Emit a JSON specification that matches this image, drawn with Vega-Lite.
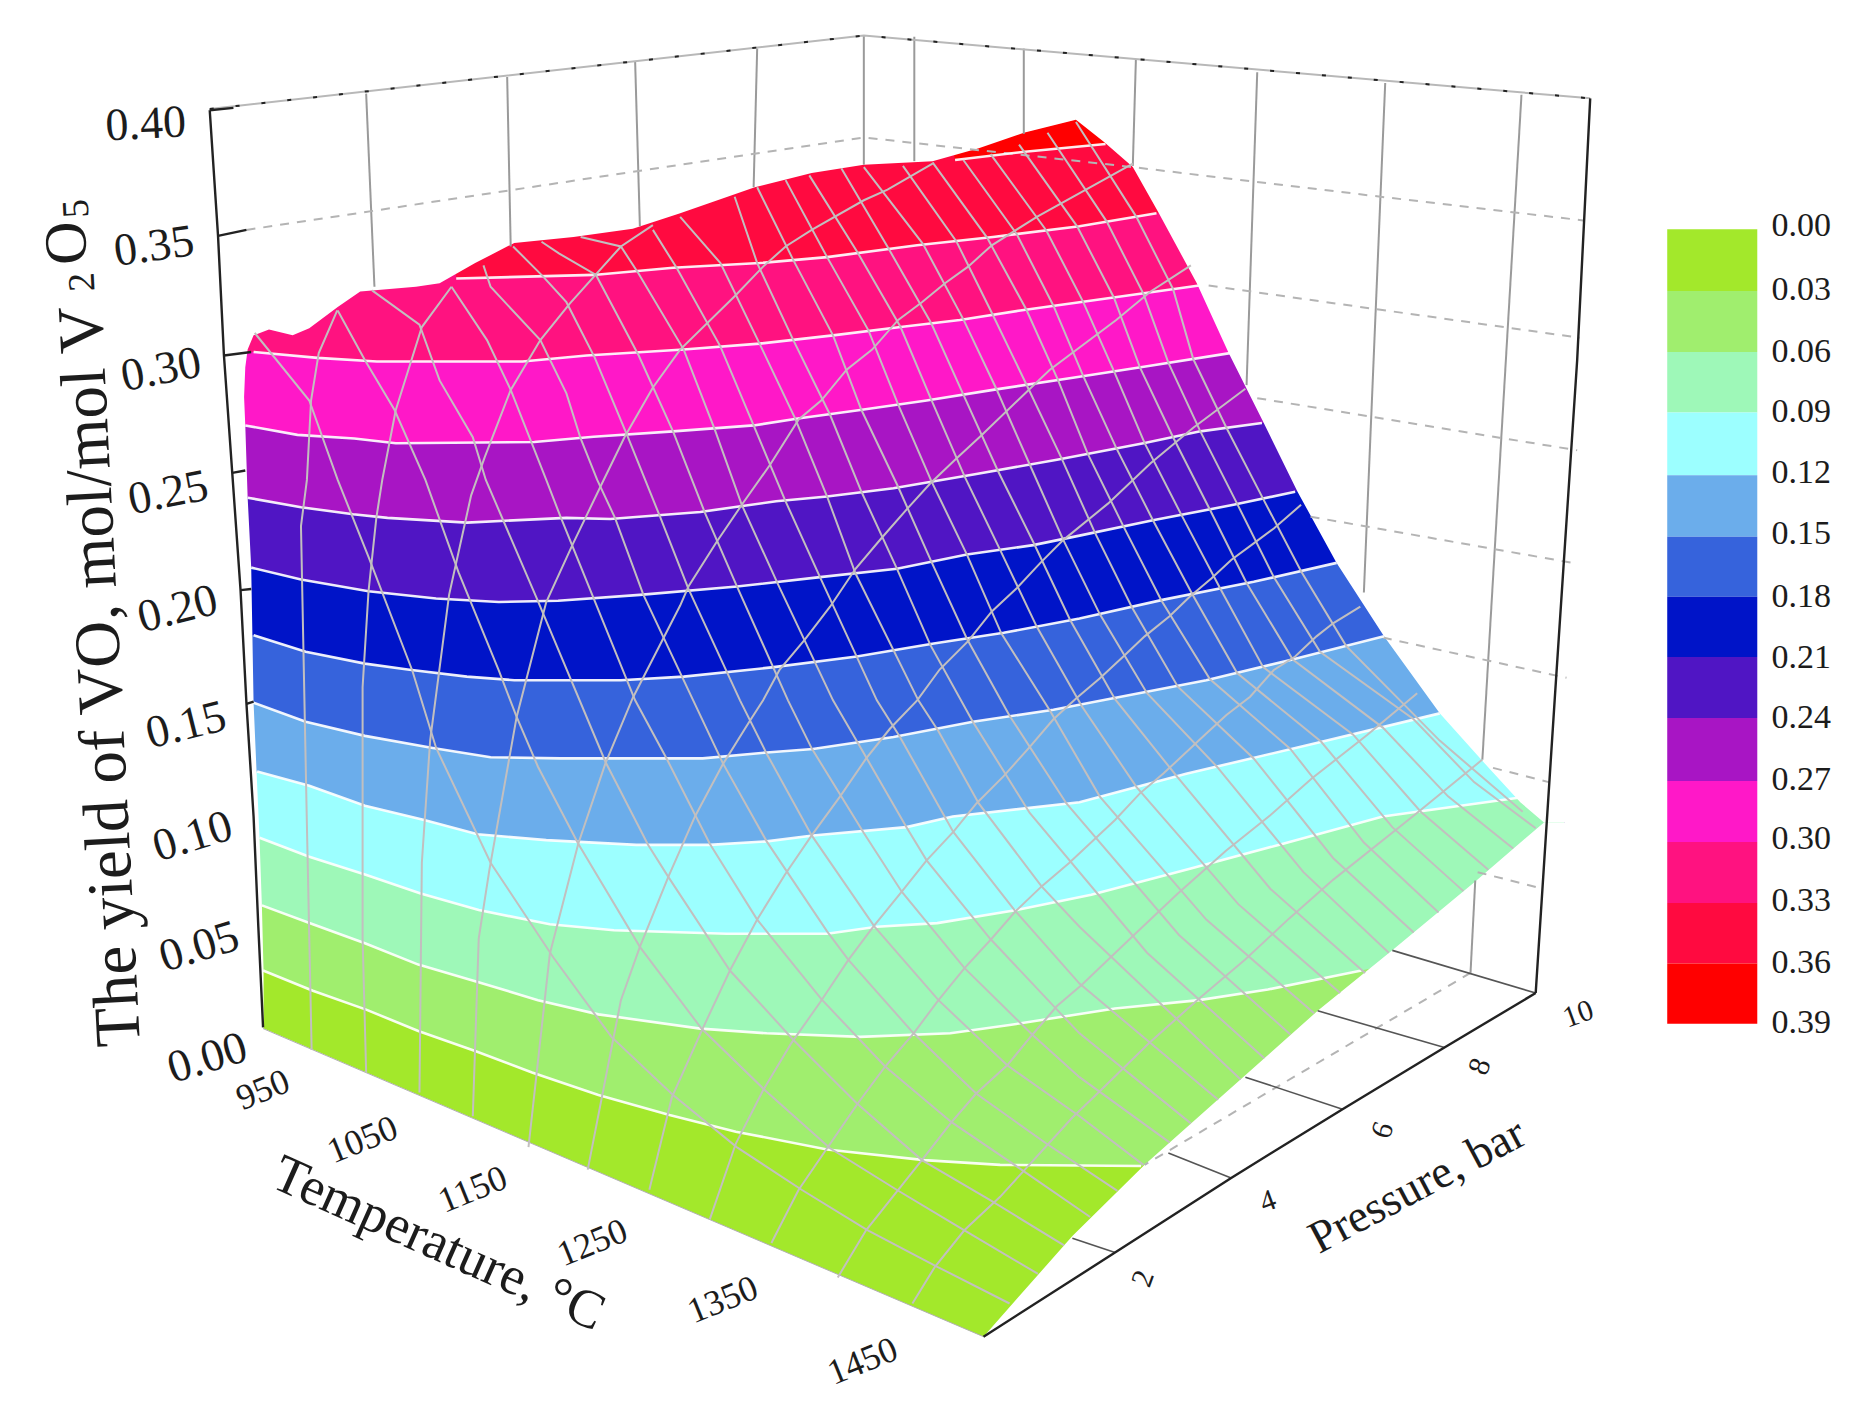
{
"$schema":"https://vega.github.io/schema/vega-lite/v5.json",
"width":1858,"height":1413,"padding":0,"autosize":"none",
"background":"white",
"config":{"view":{"stroke":null},"text":{"font":"Liberation Serif","color":"#1c1c1c"}},
"datasets":{
"bands":[
{"level":"0.36","sx":206,"sy":50,"off":1},{"level":"0.36","sx":1320,"sy":50,"off":1},
{"level":"0.33","sx":206,"sy":100,"off":1},{"level":"0.33","sx":800,"sy":100,"off":1},{"level":"0.33","sx":806,"sy":135},{"level":"0.33","sx":865,"sy":128},{"level":"0.33","sx":933,"sy":121.5},{"level":"0.33","sx":1320,"sy":100,"off":1},
{"level":"0.30","sx":206,"sy":190,"off":1},{"level":"0.30","sx":380,"sy":190,"off":1},{"level":"0.30","sx":385,"sy":235},{"level":"0.30","sx":501,"sy":232},{"level":"0.30","sx":568,"sy":226},{"level":"0.30","sx":641,"sy":222},{"level":"0.30","sx":698,"sy":217},{"level":"0.30","sx":774,"sy":207},{"level":"0.30","sx":838,"sy":200},{"level":"0.30","sx":911,"sy":191},{"level":"0.30","sx":976,"sy":180},{"level":"0.30","sx":1320,"sy":130,"off":1},
{"level":"0.27","sx":206,"sy":297,"off":1},{"level":"0.27","sx":214,"sy":297},{"level":"0.27","sx":268,"sy":302},{"level":"0.27","sx":318,"sy":305},{"level":"0.27","sx":441,"sy":305},{"level":"0.27","sx":495,"sy":300},{"level":"0.27","sx":577,"sy":295},{"level":"0.27","sx":641,"sy":290},{"level":"0.27","sx":703,"sy":283},{"level":"0.27","sx":760,"sy":276},{"level":"0.27","sx":810,"sy":270},{"level":"0.27","sx":861,"sy":262},{"level":"0.27","sx":911,"sy":255},{"level":"0.27","sx":1012,"sy":241},{"level":"0.27","sx":1320,"sy":198,"off":1},
{"level":"0.24","sx":206,"sy":358,"off":1},{"level":"0.24","sx":207,"sy":359},{"level":"0.24","sx":251,"sy":367},{"level":"0.24","sx":299,"sy":370},{"level":"0.24","sx":334,"sy":374},{"level":"0.24","sx":451,"sy":373},{"level":"0.24","sx":501,"sy":368.5},{"level":"0.24","sx":568,"sy":364},{"level":"0.24","sx":636,"sy":359},{"level":"0.24","sx":675,"sy":353},{"level":"0.24","sx":726,"sy":346},{"level":"0.24","sx":782,"sy":338},{"level":"0.24","sx":838,"sy":329},{"level":"0.24","sx":911,"sy":318},{"level":"0.24","sx":968,"sy":309},{"level":"0.24","sx":1038,"sy":298},{"level":"0.24","sx":1320,"sy":255,"off":1},
{"level":"0.21","sx":206,"sy":419,"off":1},{"level":"0.21","sx":209,"sy":420},{"level":"0.21","sx":254,"sy":428},{"level":"0.21","sx":298,"sy":434},{"level":"0.21","sx":327,"sy":437},{"level":"0.21","sx":394,"sy":441},{"level":"0.21","sx":478,"sy":437},{"level":"0.21","sx":515,"sy":438},{"level":"0.21","sx":591,"sy":432},{"level":"0.21","sx":655,"sy":423},{"level":"0.21","sx":698,"sy":419},{"level":"0.21","sx":754,"sy":412},{"level":"0.21","sx":824,"sy":400},{"level":"0.21","sx":892,"sy":388},{"level":"0.21","sx":965,"sy":374},{"level":"0.21","sx":1013,"sy":364},{"level":"0.21","sx":1065,"sy":357},{"level":"0.21","sx":1320,"sy":315,"off":1},
{"level":"0.18","sx":206,"sy":478,"off":1},{"level":"0.18","sx":212,"sy":479},{"level":"0.18","sx":254,"sy":489},{"level":"0.18","sx":311,"sy":499},{"level":"0.18","sx":368,"sy":505},{"level":"0.18","sx":421,"sy":508},{"level":"0.18","sx":471,"sy":507},{"level":"0.18","sx":540,"sy":502},{"level":"0.18","sx":622,"sy":495},{"level":"0.18","sx":692,"sy":487},{"level":"0.18","sx":757,"sy":480},{"level":"0.18","sx":816,"sy":468},{"level":"0.18","sx":872,"sy":460},{"level":"0.18","sx":911,"sy":452},{"level":"0.18","sx":973,"sy":439},{"level":"0.18","sx":1041,"sy":426},{"level":"0.18","sx":1093,"sy":415},{"level":"0.18","sx":1320,"sy":370,"off":1},
{"level":"0.15","sx":206,"sy":535,"off":1},{"level":"0.15","sx":214,"sy":536},{"level":"0.15","sx":258,"sy":550},{"level":"0.15","sx":308,"sy":560},{"level":"0.15","sx":344,"sy":565},{"level":"0.15","sx":394,"sy":571},{"level":"0.15","sx":434,"sy":574},{"level":"0.15","sx":524,"sy":574},{"level":"0.15","sx":577,"sy":571},{"level":"0.15","sx":653,"sy":563},{"level":"0.15","sx":723,"sy":554},{"level":"0.15","sx":788,"sy":543},{"level":"0.15","sx":847,"sy":534},{"level":"0.15","sx":911,"sy":522},{"level":"0.15","sx":982,"sy":506},{"level":"0.15","sx":1058,"sy":491},{"level":"0.15","sx":1128,"sy":475},{"level":"0.15","sx":1320,"sy":430,"off":1},
{"level":"0.12","sx":206,"sy":592,"off":1},{"level":"0.12","sx":214,"sy":593},{"level":"0.12","sx":258,"sy":609},{"level":"0.12","sx":308,"sy":621},{"level":"0.12","sx":364,"sy":631},{"level":"0.12","sx":414,"sy":639},{"level":"0.12","sx":473,"sy":640},{"level":"0.12","sx":593,"sy":640},{"level":"0.12","sx":647,"sy":635},{"level":"0.12","sx":686,"sy":632},{"level":"0.12","sx":754,"sy":622},{"level":"0.12","sx":821,"sy":609},{"level":"0.12","sx":889,"sy":599},{"level":"0.12","sx":1018,"sy":574},{"level":"0.12","sx":1089,"sy":557},{"level":"0.12","sx":1168,"sy":537},{"level":"0.12","sx":1320,"sy":500,"off":1},
{"level":"0.09","sx":206,"sy":650,"off":1},{"level":"0.09","sx":217,"sy":651},{"level":"0.09","sx":261,"sy":663},{"level":"0.09","sx":308,"sy":680},{"level":"0.09","sx":358,"sy":692},{"level":"0.09","sx":403,"sy":704},{"level":"0.09","sx":461,"sy":709},{"level":"0.09","sx":537,"sy":713},{"level":"0.09","sx":599,"sy":713},{"level":"0.09","sx":647,"sy":710},{"level":"0.09","sx":686,"sy":705},{"level":"0.09","sx":765,"sy":698},{"level":"0.09","sx":804,"sy":689},{"level":"0.09","sx":911,"sy":677},{"level":"0.09","sx":1001,"sy":653},{"level":"0.09","sx":1111,"sy":627},{"level":"0.09","sx":1215,"sy":602},{"level":"0.09","sx":1320,"sy":577,"off":1},
{"level":"0.06","sx":206,"sy":706,"off":1},{"level":"0.06","sx":219,"sy":707},{"level":"0.06","sx":261,"sy":723},{"level":"0.06","sx":308,"sy":738},{"level":"0.06","sx":355,"sy":754},{"level":"0.06","sx":404,"sy":768},{"level":"0.06","sx":464,"sy":780},{"level":"0.06","sx":518,"sy":785},{"level":"0.06","sx":613,"sy":788},{"level":"0.06","sx":698,"sy":788},{"level":"0.06","sx":740,"sy":782},{"level":"0.06","sx":791,"sy":779},{"level":"0.06","sx":858,"sy":768},{"level":"0.06","sx":921,"sy":755},{"level":"0.06","sx":1005,"sy":733},{"level":"0.06","sx":1079,"sy":713},{"level":"0.06","sx":1167,"sy":689},{"level":"0.06","sx":1283,"sy":673},{"level":"0.06","sx":1320,"sy":665,"off":1},
{"level":"0.03","sx":206,"sy":763,"off":1},{"level":"0.03","sx":221,"sy":764},{"level":"0.03","sx":264,"sy":780},{"level":"0.03","sx":308,"sy":796},{"level":"0.03","sx":353,"sy":814},{"level":"0.03","sx":401,"sy":828},{"level":"0.03","sx":454,"sy":844},{"level":"0.03","sx":505,"sy":856},{"level":"0.03","sx":591,"sy":868},{"level":"0.03","sx":647,"sy":872},{"level":"0.03","sx":726,"sy":875},{"level":"0.03","sx":802,"sy":872},{"level":"0.03","sx":852,"sy":865},{"level":"0.03","sx":941,"sy":851},{"level":"0.03","sx":1012,"sy":844},{"level":"0.03","sx":1070,"sy":835},{"level":"0.03","sx":1149,"sy":819},{"level":"0.03","sx":1320,"sy":780,"off":1},
{"level":"0.00","sx":206,"sy":818,"off":1},{"level":"0.00","sx":222,"sy":819},{"level":"0.00","sx":264,"sy":836},{"level":"0.00","sx":309,"sy":852},{"level":"0.00","sx":353,"sy":870},{"level":"0.00","sx":401,"sy":887},{"level":"0.00","sx":449,"sy":905},{"level":"0.00","sx":505,"sy":924},{"level":"0.00","sx":565,"sy":941},{"level":"0.00","sx":621,"sy":955},{"level":"0.00","sx":698,"sy":970},{"level":"0.00","sx":780,"sy":979},{"level":"0.00","sx":844,"sy":983},{"level":"0.00","sx":963,"sy":984},{"level":"0.00","sx":1320,"sy":900,"off":1}
],
"topEdge":[{"sx":198,"sy":335},{"sx":206,"sy":335},{"sx":207,"sy":310},{"sx":209,"sy":295},{"sx":214,"sy":283},{"sx":227,"sy":278},{"sx":247,"sy":283},{"sx":261,"sy":277},{"sx":285,"sy":259},{"sx":304,"sy":246},{"sx":351,"sy":242},{"sx":371,"sy":239},{"sx":401,"sy":222},{"sx":434,"sy":205},{"sx":484,"sy":200},{"sx":534,"sy":193},{"sx":574,"sy":180},{"sx":637,"sy":158},{"sx":685,"sy":146},{"sx":729,"sy":139},{"sx":787,"sy":136},{"sx":826,"sy":125},{"sx":864,"sy":112},{"sx":908,"sy":101},{"sx":932,"sy":120},{"sx":956,"sy":141},{"sx":978,"sy":180},{"sx":1010,"sy":239},{"sx":1037,"sy":298},{"sx":1066,"sy":356},{"sx":1095,"sy":415},{"sx":1128,"sy":475},{"sx":1168,"sy":537},{"sx":1215,"sy":602},{"sx":1250,"sy":641},{"sx":1283,"sy":677},{"sx":1303,"sy":694},{"sx":1330,"sy":694}],
"bottomEdge":[{"sx":198,"sy":335},{"sx":206,"sy":335},{"sx":207,"sy":359},{"sx":209,"sy":420},{"sx":212,"sy":479},{"sx":214,"sy":593},{"sx":216.5,"sy":651},{"sx":219,"sy":707},{"sx":221,"sy":764},{"sx":222.4,"sy":819},{"sx":222.5,"sy":868},{"sx":830,"sy":1128},{"sx":905,"sy":1043},{"sx":966,"sy":983},{"sx":1049,"sy":909},{"sx":1112,"sy":853},{"sx":1176,"sy":801},{"sx":1246,"sy":743},{"sx":1303,"sy":694},{"sx":1330,"sy":694}],
"wallSolid":[
{"line":"w1","sx":309,"sy":79},{"line":"w1","sx":316,"sy":242},{"line":"w2","sx":428,"sy":65},{"line":"w2","sx":431,"sy":208},{"line":"w3","sx":536,"sy":52},{"line":"w3","sx":540,"sy":191},{"line":"w4","sx":639,"sy":41},{"line":"w4","sx":636,"sy":158},{"line":"w5","sx":729,"sy":30},{"line":"w5","sx":729,"sy":139},{"line":"w6","sx":771.6,"sy":31},{"line":"w6","sx":771.6,"sy":136},{"line":"w7","sx":864,"sy":41},{"line":"w7","sx":864,"sy":113},{"line":"w8","sx":958.6,"sy":50},{"line":"w8","sx":956,"sy":140},{"line":"w9","sx":1061,"sy":61},{"line":"w9","sx":1052,"sy":325},{"line":"w10","sx":1169,"sy":70},{"line":"w10","sx":1151,"sy":500},{"line":"w11","sx":1284,"sy":80},{"line":"w11","sx":1251,"sy":641},{"line":"w12","sx":1245,"sy":743},{"line":"w12","sx":1241,"sy":821}
],
"wallDash":[
{"line":"d35","sx":208,"sy":194},{"line":"d35","sx":574,"sy":139},{"line":"d35","sx":729,"sy":116},{"line":"d35","sx":956,"sy":141},{"line":"d35","sx":1165,"sy":166},{"line":"d35","sx":1336,"sy":186},
{"line":"d30","sx":1020,"sy":241},{"line":"d30","sx":1333,"sy":285},
{"line":"d25","sx":1061,"sy":336},{"line":"d25","sx":1331,"sy":380},
{"line":"d20","sx":1106,"sy":436},{"line":"d20","sx":1327,"sy":475},
{"line":"d15","sx":1167,"sy":538},{"line":"d15","sx":1322,"sy":572},
{"line":"d10","sx":1260,"sy":648},{"line":"d10","sx":1307,"sy":660},
{"line":"d05","sx":1247,"sy":736},{"line":"d05","sx":1302,"sy":750},
{"line":"f0","sx":1241,"sy":821},{"line":"f0","sx":966,"sy":983}
],
"floorLines":[
{"line":"p2","sx":941,"sy":1057},{"line":"p2","sx":905,"sy":1045},
{"line":"p4","sx":1039,"sy":994},{"line":"p4","sx":986,"sy":973},
{"line":"p6","sx":1133,"sy":936},{"line":"p6","sx":1051,"sy":909},
{"line":"p8","sx":1219,"sy":884},{"line":"p8","sx":1112,"sy":853},
{"line":"p10","sx":1296,"sy":838},{"line":"p10","sx":1175,"sy":802}
],
"gridT":[
{"line":"A1","sx":263,"sy":886},{"line":"A1","sx":259,"sy":696},{"line":"A1","sx":254,"sy":444},{"line":"A1","sx":259,"sy":405},{"line":"A1","sx":262.5,"sy":338},{"line":"A1","sx":269,"sy":298},{"line":"A1","sx":284.6,"sy":262},
{"line":"A2","sx":309,"sy":905},{"line":"A2","sx":306,"sy":792},{"line":"A2","sx":306,"sy":580},{"line":"A2","sx":311,"sy":499},{"line":"A2","sx":317.6,"sy":437},{"line":"A2","sx":322.6,"sy":405},{"line":"A2","sx":334,"sy":346},{"line":"A2","sx":356,"sy":276},{"line":"A2","sx":381,"sy":242},
{"line":"A3","sx":354,"sy":922},{"line":"A3","sx":356,"sy":728},{"line":"A3","sx":363,"sy":625},{"line":"A3","sx":379,"sy":502},{"line":"A3","sx":397.6,"sy":418},{"line":"A3","sx":409,"sy":386},{"line":"A3","sx":431,"sy":329},{"line":"A3","sx":456,"sy":287},{"line":"A3","sx":481,"sy":256},{"line":"A3","sx":524,"sy":208},{"line":"A3","sx":551,"sy":190},
{"line":"A4","sx":399,"sy":942},{"line":"A4","sx":404,"sy":792},{"line":"A4","sx":413,"sy":734},{"line":"A4","sx":436,"sy":605},{"line":"A4","sx":461,"sy":508},{"line":"A4","sx":483,"sy":460},{"line":"A4","sx":508,"sy":408},{"line":"A4","sx":527,"sy":369},{"line":"A4","sx":551,"sy":327},{"line":"A4","sx":574,"sy":295},{"line":"A4","sx":620,"sy":250},{"line":"A4","sx":644,"sy":225},{"line":"A4","sx":663,"sy":208},{"line":"A4","sx":685,"sy":194},{"line":"A4","sx":729,"sy":169},{"line":"A4","sx":749,"sy":160},{"line":"A4","sx":787,"sy":138},
{"line":"A5","sx":446,"sy":968},{"line":"A5","sx":464,"sy":805},{"line":"A5","sx":488,"sy":712},{"line":"A5","sx":511,"sy":644},{"line":"A5","sx":534,"sy":589},{"line":"A5","sx":574,"sy":511},{"line":"A5","sx":581,"sy":495},{"line":"A5","sx":605,"sy":457},{"line":"A5","sx":626,"sy":426},{"line":"A5","sx":650,"sy":392},{"line":"A5","sx":674,"sy":354},{"line":"A5","sx":693,"sy":338},{"line":"A5","sx":714.5,"sy":312},{"line":"A5","sx":736,"sy":295},{"line":"A5","sx":758,"sy":270},{"line":"A5","sx":778,"sy":255},{"line":"A5","sx":797.5,"sy":239},{"line":"A5","sx":817,"sy":225},{"line":"A5","sx":837,"sy":207},{"line":"A5","sx":875,"sy":183},{"line":"A5","sx":956,"sy":138},
{"line":"A6","sx":496,"sy":987},{"line":"A6","sx":513,"sy":900},{"line":"A6","sx":524,"sy":844},{"line":"A6","sx":540,"sy":799},{"line":"A6","sx":564,"sy":740},{"line":"A6","sx":586.5,"sy":689},{"line":"A6","sx":610,"sy":645},{"line":"A6","sx":633,"sy":608},{"line":"A6","sx":644,"sy":591},{"line":"A6","sx":658,"sy":565},{"line":"A6","sx":679,"sy":540},{"line":"A6","sx":700.5,"sy":512},{"line":"A6","sx":722,"sy":480},{"line":"A6","sx":744,"sy":454},{"line":"A6","sx":765,"sy":430},{"line":"A6","sx":785,"sy":408},{"line":"A6","sx":806,"sy":388},{"line":"A6","sx":827,"sy":368.5},{"line":"A6","sx":865,"sy":332},{"line":"A6","sx":886,"sy":312},{"line":"A6","sx":942,"sy":270},{"line":"A6","sx":971,"sy":246},{"line":"A6","sx":1005,"sy":224},
{"line":"A7","sx":548,"sy":1004},{"line":"A7","sx":567,"sy":926},{"line":"A7","sx":593,"sy":868},{"line":"A7","sx":616,"sy":819},{"line":"A7","sx":639,"sy":776},{"line":"A7","sx":662.5,"sy":738},{"line":"A7","sx":685,"sy":705},{"line":"A7","sx":709,"sy":672},{"line":"A7","sx":731,"sy":640},{"line":"A7","sx":751,"sy":615},{"line":"A7","sx":774,"sy":591},{"line":"A7","sx":793,"sy":565},{"line":"A7","sx":817,"sy":541},{"line":"A7","sx":837,"sy":516},{"line":"A7","sx":858,"sy":496.5},{"line":"A7","sx":878,"sy":475},{"line":"A7","sx":897,"sy":456},{"line":"A7","sx":935,"sy":425},{"line":"A7","sx":971,"sy":391},{"line":"A7","sx":1007,"sy":361},{"line":"A7","sx":1051,"sy":328},
{"line":"A8","sx":599,"sy":1029},{"line":"A8","sx":621,"sy":965},{"line":"A8","sx":644,"sy":920},{"line":"A8","sx":668,"sy":880},{"line":"A8","sx":692,"sy":846},{"line":"A8","sx":716,"sy":810},{"line":"A8","sx":737,"sy":782},{"line":"A8","sx":761,"sy":752.5},{"line":"A8","sx":782,"sy":726},{"line":"A8","sx":804.5,"sy":702},{"line":"A8","sx":824,"sy":678},{"line":"A8","sx":847,"sy":655},{"line":"A8","sx":868,"sy":631.5},{"line":"A8","sx":889,"sy":607},{"line":"A8","sx":908.6,"sy":589},{"line":"A8","sx":928,"sy":572.5},{"line":"A8","sx":948,"sy":554},{"line":"A8","sx":966,"sy":537},{"line":"A8","sx":987,"sy":520},{"line":"A8","sx":1004,"sy":503.6},{"line":"A8","sx":1022.5,"sy":488},{"line":"A8","sx":1039,"sy":472.6},{"line":"A8","sx":1058,"sy":458.5},{"line":"A8","sx":1075,"sy":446},{"line":"A8","sx":1098,"sy":426},
{"line":"A9","sx":651,"sy":1049},{"line":"A9","sx":674,"sy":1004},{"line":"A9","sx":724,"sy":931},{"line":"A9","sx":747,"sy":900},{"line":"A9","sx":771,"sy":872},{"line":"A9","sx":792,"sy":844},{"line":"A9","sx":814,"sy":817},{"line":"A9","sx":837,"sy":792},{"line":"A9","sx":857,"sy":769},{"line":"A9","sx":879,"sy":748},{"line":"A9","sx":902,"sy":728.5},{"line":"A9","sx":941,"sy":692},{"line":"A9","sx":962,"sy":669.5},{"line":"A9","sx":982,"sy":652.6},{"line":"A9","sx":1018,"sy":619},{"line":"A9","sx":1035,"sy":603.4},{"line":"A9","sx":1055,"sy":588},{"line":"A9","sx":1075,"sy":565.4},{"line":"A9","sx":1093,"sy":554},{"line":"A9","sx":1111,"sy":537},{"line":"A9","sx":1125,"sy":526},{"line":"A9","sx":1148,"sy":512},
{"line":"A10","sx":707,"sy":1078},{"line":"A10","sx":731,"sy":1038},{"line":"A10","sx":778,"sy":979},{"line":"A10","sx":803,"sy":947},{"line":"A10","sx":824,"sy":922.6},{"line":"A10","sx":850,"sy":899},{"line":"A10","sx":871,"sy":873.4},{"line":"A10","sx":892,"sy":849},{"line":"A10","sx":913,"sy":831},{"line":"A10","sx":955,"sy":791},{"line":"A10","sx":994,"sy":754},{"line":"A10","sx":1034.6,"sy":718},{"line":"A10","sx":1072,"sy":688},{"line":"A10","sx":1107,"sy":657},{"line":"A10","sx":1154,"sy":620},{"line":"A10","sx":1196,"sy":585},
{"line":"A11","sx":770,"sy":1100},{"line":"A11","sx":789,"sy":1069},{"line":"A11","sx":814,"sy":1038},{"line":"A11","sx":844,"sy":1010},{"line":"A11","sx":905,"sy":943},{"line":"A11","sx":927,"sy":922},{"line":"A11","sx":970,"sy":880},{"line":"A11","sx":1012,"sy":842.6},{"line":"A11","sx":1050.6,"sy":810},{"line":"A11","sx":1088,"sy":775},{"line":"A11","sx":1125,"sy":742.5},{"line":"A11","sx":1194,"sy":687.6},{"line":"A11","sx":1251,"sy":641}
],
"gridP":[
{"line":"B1","sx":215,"sy":281},{"line":"B1","sx":261,"sy":338},{"line":"B1","sx":285,"sy":405},{"line":"B1","sx":311,"sy":470},{"line":"B1","sx":348,"sy":566},{"line":"B1","sx":368,"sy":631},{"line":"B1","sx":414,"sy":728},{"line":"B1","sx":467,"sy":808},{"line":"B1","sx":516,"sy":875},{"line":"B1","sx":568,"sy":924},{"line":"B1","sx":621.7,"sy":968},{"line":"B1","sx":676.5,"sy":1004},{"line":"B1","sx":732,"sy":1038},{"line":"B1","sx":791,"sy":1069},{"line":"B1","sx":852,"sy":1100},
{"line":"B2","sx":285,"sy":262},{"line":"B2","sx":308,"sy":304},{"line":"B2","sx":333,"sy":346},{"line":"B2","sx":359,"sy":405},{"line":"B2","sx":387,"sy":483},{"line":"B2","sx":421,"sy":566},{"line":"B2","sx":436,"sy":605},{"line":"B2","sx":454,"sy":647},{"line":"B2","sx":488,"sy":712},{"line":"B2","sx":540,"sy":799},{"line":"B2","sx":592,"sy":868},{"line":"B2","sx":645.6,"sy":920},{"line":"B2","sx":700.5,"sy":969},{"line":"B2","sx":756.7,"sy":1004},{"line":"B2","sx":810,"sy":1036},{"line":"B2","sx":876,"sy":1075},
{"line":"B3","sx":314,"sy":245},{"line":"B3","sx":354,"sy":274},{"line":"B3","sx":371,"sy":321},{"line":"B3","sx":399,"sy":369},{"line":"B3","sx":410,"sy":405},{"line":"B3","sx":453,"sy":505},{"line":"B3","sx":511,"sy":643},{"line":"B3","sx":547,"sy":713},{"line":"B3","sx":564,"sy":740},{"line":"B3","sx":616,"sy":819},{"line":"B3","sx":670,"sy":878},{"line":"B3","sx":723,"sy":931},{"line":"B3","sx":778,"sy":979},{"line":"B3","sx":836,"sy":1013},{"line":"B3","sx":898,"sy":1051},
{"line":"B4","sx":381,"sy":242},{"line":"B4","sx":411,"sy":287},{"line":"B4","sx":431,"sy":329},{"line":"B4","sx":461,"sy":405},{"line":"B4","sx":473,"sy":436},{"line":"B4","sx":501,"sy":505},{"line":"B4","sx":536,"sy":591},{"line":"B4","sx":563,"sy":641},{"line":"B4","sx":599,"sy":712},{"line":"B4","sx":639,"sy":776},{"line":"B4","sx":693,"sy":843},{"line":"B4","sx":747,"sy":900},{"line":"B4","sx":803,"sy":947},{"line":"B4","sx":862,"sy":987},{"line":"B4","sx":920,"sy":1027},
{"line":"B5","sx":408,"sy":224},{"line":"B5","sx":414,"sy":242},{"line":"B5","sx":456,"sy":287},{"line":"B5","sx":478,"sy":332},{"line":"B5","sx":490,"sy":370},{"line":"B5","sx":504,"sy":405},{"line":"B5","sx":519,"sy":437},{"line":"B5","sx":543,"sy":502},{"line":"B5","sx":585,"sy":591},{"line":"B5","sx":610,"sy":644},{"line":"B5","sx":647,"sy":710},{"line":"B5","sx":698,"sy":786},{"line":"B5","sx":716,"sy":810},{"line":"B5","sx":771,"sy":872},{"line":"B5","sx":824,"sy":923},{"line":"B5","sx":883,"sy":965},{"line":"B5","sx":943,"sy":1005},
{"line":"B6","sx":433,"sy":208},{"line":"B6","sx":458,"sy":233},{"line":"B6","sx":478,"sy":255},{"line":"B6","sx":502,"sy":302},{"line":"B6","sx":530,"sy":369},{"line":"B6","sx":557,"sy":436},{"line":"B6","sx":581,"sy":497},{"line":"B6","sx":624.5,"sy":591},{"line":"B6","sx":647,"sy":636},{"line":"B6","sx":685,"sy":705},{"line":"B6","sx":738,"sy":782},{"line":"B6","sx":792,"sy":844},{"line":"B6","sx":850,"sy":899},{"line":"B6","sx":911,"sy":942},{"line":"B6","sx":965,"sy":983},
{"line":"B7","sx":457,"sy":204},{"line":"B7","sx":472,"sy":214},{"line":"B7","sx":503,"sy":232},{"line":"B7","sx":539,"sy":300},{"line":"B7","sx":568,"sy":364},{"line":"B7","sx":595,"sy":433},{"line":"B7","sx":622,"sy":495},{"line":"B7","sx":665,"sy":591},{"line":"B7","sx":685,"sy":631.5},{"line":"B7","sx":729,"sy":703},{"line":"B7","sx":761,"sy":752.5},{"line":"B7","sx":814,"sy":817},{"line":"B7","sx":871,"sy":873},{"line":"B7","sx":911,"sy":909},{"line":"B7","sx":987,"sy":964},
{"line":"B8","sx":490,"sy":200},{"line":"B8","sx":524,"sy":208},{"line":"B8","sx":539,"sy":231},{"line":"B8","sx":577,"sy":295},{"line":"B8","sx":603,"sy":362},{"line":"B8","sx":626,"sy":426},{"line":"B8","sx":657,"sy":494},{"line":"B8","sx":703,"sy":591},{"line":"B8","sx":724,"sy":627},{"line":"B8","sx":765,"sy":698},{"line":"B8","sx":782,"sy":726},{"line":"B8","sx":835.5,"sy":792},{"line":"B8","sx":892,"sy":852},{"line":"B8","sx":911,"sy":872},{"line":"B8","sx":1005,"sy":948},
{"line":"B9","sx":551,"sy":194},{"line":"B9","sx":571,"sy":226},{"line":"B9","sx":608,"sy":292.5},{"line":"B9","sx":636,"sy":359},{"line":"B9","sx":662.5,"sy":422},{"line":"B9","sx":692,"sy":487},{"line":"B9","sx":740,"sy":591},{"line":"B9","sx":759.5,"sy":622},{"line":"B9","sx":804.5,"sy":702},{"line":"B9","sx":857,"sy":769},{"line":"B9","sx":911,"sy":830},{"line":"B9","sx":1028,"sy":928},
{"line":"B10","sx":574,"sy":183},{"line":"B10","sx":608,"sy":222},{"line":"B10","sx":641,"sy":290},{"line":"B10","sx":671,"sy":353},{"line":"B10","sx":698,"sy":419},{"line":"B10","sx":722,"sy":484},{"line":"B10","sx":775,"sy":591},{"line":"B10","sx":792,"sy":617},{"line":"B10","sx":826,"sy":678},{"line":"B10","sx":879,"sy":748},{"line":"B10","sx":911,"sy":782},{"line":"B10","sx":1047,"sy":911},
{"line":"B11","sx":620,"sy":166},{"line":"B11","sx":639,"sy":222},{"line":"B11","sx":669.5,"sy":287},{"line":"B11","sx":700.5,"sy":350},{"line":"B11","sx":727,"sy":415},{"line":"B11","sx":757,"sy":480},{"line":"B11","sx":785,"sy":544},{"line":"B11","sx":821,"sy":609},{"line":"B11","sx":869,"sy":686},{"line":"B11","sx":968,"sy":804},{"line":"B11","sx":1067,"sy":893},
{"line":"B12","sx":639,"sy":158},{"line":"B12","sx":669.5,"sy":219.5},{"line":"B12","sx":703,"sy":283},{"line":"B12","sx":727,"sy":346},{"line":"B12","sx":758,"sy":411},{"line":"B12","sx":786,"sy":474},{"line":"B12","sx":816,"sy":539},{"line":"B12","sx":852,"sy":604},{"line":"B12","sx":900,"sy":678},{"line":"B12","sx":995,"sy":789},{"line":"B12","sx":1089,"sy":873},
{"line":"B13","sx":663,"sy":152},{"line":"B13","sx":698,"sy":217},{"line":"B13","sx":733,"sy":279},{"line":"B13","sx":758,"sy":341.5},{"line":"B13","sx":786,"sy":406},{"line":"B13","sx":816,"sy":468},{"line":"B13","sx":845,"sy":534.5},{"line":"B13","sx":886,"sy":599.5},{"line":"B13","sx":928,"sy":672},{"line":"B13","sx":1018,"sy":776},{"line":"B13","sx":1109,"sy":855},
{"line":"B14","sx":683,"sy":148},{"line":"B14","sx":724,"sy":213.5},{"line":"B14","sx":760,"sy":276},{"line":"B14","sx":786,"sy":337.5},{"line":"B14","sx":814,"sy":402},{"line":"B14","sx":844,"sy":464},{"line":"B14","sx":875,"sy":529},{"line":"B14","sx":913,"sy":596},{"line":"B14","sx":959,"sy":664},{"line":"B14","sx":1045,"sy":763},{"line":"B14","sx":1131,"sy":838},
{"line":"B15","sx":710,"sy":142},{"line":"B15","sx":750,"sy":210},{"line":"B15","sx":786,"sy":273},{"line":"B15","sx":813,"sy":333},{"line":"B15","sx":842,"sy":397},{"line":"B15","sx":873,"sy":459.5},{"line":"B15","sx":903,"sy":523},{"line":"B15","sx":941,"sy":590},{"line":"B15","sx":993,"sy":655},{"line":"B15","sx":1072,"sy":750},{"line":"B15","sx":1152,"sy":821},
{"line":"B16","sx":729,"sy":141},{"line":"B16","sx":779,"sy":206},{"line":"B16","sx":813,"sy":269.5},{"line":"B16","sx":841,"sy":328.5},{"line":"B16","sx":869,"sy":392},{"line":"B16","sx":897,"sy":455},{"line":"B16","sx":928,"sy":518},{"line":"B16","sx":968,"sy":585},{"line":"B16","sx":1027,"sy":647},{"line":"B16","sx":1100,"sy":736},{"line":"B16","sx":1172,"sy":804},
{"line":"B17","sx":762,"sy":140},{"line":"B17","sx":807,"sy":203.5},{"line":"B17","sx":838,"sy":266},{"line":"B17","sx":866,"sy":324},{"line":"B17","sx":896,"sy":387},{"line":"B17","sx":924,"sy":449.5},{"line":"B17","sx":955,"sy":512},{"line":"B17","sx":994,"sy":579.5},{"line":"B17","sx":1058,"sy":640},{"line":"B17","sx":1125,"sy":724},{"line":"B17","sx":1193,"sy":787},
{"line":"B18","sx":787,"sy":137},{"line":"B18","sx":833,"sy":200.5},{"line":"B18","sx":866,"sy":261},{"line":"B18","sx":893,"sy":321},{"line":"B18","sx":918,"sy":383},{"line":"B18","sx":948,"sy":444},{"line":"B18","sx":980,"sy":506.5},{"line":"B18","sx":1021,"sy":573},{"line":"B18","sx":1089,"sy":632},{"line":"B18","sx":1151,"sy":711},{"line":"B18","sx":1214,"sy":770},
{"line":"B19","sx":813,"sy":135},{"line":"B19","sx":858,"sy":197.5},{"line":"B19","sx":889,"sy":258},{"line":"B19","sx":914,"sy":317},{"line":"B19","sx":942,"sy":378},{"line":"B19","sx":973,"sy":439},{"line":"B19","sx":1006,"sy":501},{"line":"B19","sx":1044,"sy":568},{"line":"B19","sx":1115,"sy":626},{"line":"B19","sx":1175,"sy":698},{"line":"B19","sx":1235,"sy":752},
{"line":"B20","sx":836,"sy":130},{"line":"B20","sx":883,"sy":194.5},{"line":"B20","sx":914,"sy":254.5},{"line":"B20","sx":940,"sy":313},{"line":"B20","sx":966,"sy":374},{"line":"B20","sx":997,"sy":434.5},{"line":"B20","sx":1030,"sy":497},{"line":"B20","sx":1066,"sy":563},{"line":"B20","sx":1142,"sy":620},{"line":"B20","sx":1199,"sy":685},{"line":"B20","sx":1256,"sy":734},
{"line":"B21","sx":860,"sy":122},{"line":"B21","sx":909,"sy":191},{"line":"B21","sx":940,"sy":251},{"line":"B21","sx":962,"sy":310},{"line":"B21","sx":990,"sy":369},{"line":"B21","sx":1021,"sy":430},{"line":"B21","sx":1052,"sy":492},{"line":"B21","sx":1091,"sy":556.5},{"line":"B21","sx":1167,"sy":614},{"line":"B21","sx":1222,"sy":672},{"line":"B21","sx":1277,"sy":716},
{"line":"B22","sx":884,"sy":112},{"line":"B22","sx":934,"sy":187},{"line":"B22","sx":965,"sy":248},{"line":"B22","sx":986,"sy":306},{"line":"B22","sx":1013,"sy":364},{"line":"B22","sx":1044,"sy":425},{"line":"B22","sx":1075,"sy":487},{"line":"B22","sx":1114,"sy":550},{"line":"B22","sx":1193,"sy":607},{"line":"B22","sx":1244,"sy":660},{"line":"B22","sx":1296,"sy":699},
{"line":"B23","sx":908,"sy":103},{"line":"B23","sx":959,"sy":183},{"line":"B23","sx":990,"sy":244},{"line":"B23","sx":1007,"sy":303},{"line":"B23","sx":1035,"sy":361},{"line":"B23","sx":1066,"sy":421},{"line":"B23","sx":1098,"sy":482},{"line":"B23","sx":1136,"sy":545},{"line":"B23","sx":1215,"sy":625},{"line":"B23","sx":1285,"sy":685}
],
"axes":[
{"line":"zAxis","sx":177,"sy":93},{"line":"zAxis","sx":184,"sy":199},{"line":"zAxis","sx":189,"sy":300},{"line":"zAxis","sx":196,"sy":399},{"line":"zAxis","sx":203,"sy":498},{"line":"zAxis","sx":208,"sy":594},{"line":"zAxis","sx":214,"sy":689},{"line":"zAxis","sx":218,"sy":782},{"line":"zAxis","sx":222,"sy":867},
{"line":"rightAxis","sx":1342,"sy":83},{"line":"rightAxis","sx":1331,"sy":304},{"line":"rightAxis","sx":1312,"sy":591},{"line":"rightAxis","sx":1296,"sy":838},
{"line":"pAxis","sx":830,"sy":1128},{"line":"pAxis","sx":941,"sy":1057},{"line":"pAxis","sx":1039,"sy":994},{"line":"pAxis","sx":1133,"sy":936},{"line":"pAxis","sx":1219,"sy":884},{"line":"pAxis","sx":1296,"sy":838},
{"line":"t35","sx":184,"sy":199},{"line":"t35","sx":208,"sy":194},
{"line":"t30","sx":189,"sy":300},{"line":"t30","sx":212,"sy":297},
{"line":"t25","sx":196,"sy":399},{"line":"t25","sx":207,"sy":397},
{"line":"t20","sx":203,"sy":498},{"line":"t20","sx":212,"sy":497},
{"line":"t15","sx":208,"sy":594},{"line":"t15","sx":214,"sy":592},
{"line":"top1","sx":177,"sy":93},{"line":"top1","sx":197,"sy":91}
],
"topFrame":[{"sx":177,"sy":92},{"sx":729,"sy":30},{"sx":1342,"sy":83}],
"frontEdge":[{"sx":222,"sy":868},{"sx":830,"sy":1128}],
"legendCells":[
{"level":"0.00","sx":1407,"sx2":1483,"sy":193.5,"sy2":245.6},{"level":"0.03","sx":1407,"sx2":1483,"sy":245.6,"sy2":297},{"level":"0.06","sx":1407,"sx2":1483,"sy":297,"sy2":348},{"level":"0.09","sx":1407,"sx2":1483,"sy":348,"sy2":401},{"level":"0.12","sx":1407,"sx2":1483,"sy":401,"sy2":453},{"level":"0.15","sx":1407,"sx2":1483,"sy":453,"sy2":503.5},{"level":"0.18","sx":1407,"sx2":1483,"sy":503.5,"sy2":554.5},{"level":"0.21","sx":1407,"sx2":1483,"sy":554.5,"sy2":606},{"level":"0.24","sx":1407,"sx2":1483,"sy":606,"sy2":659},{"level":"0.27","sx":1407,"sx2":1483,"sy":659,"sy2":710.6},{"level":"0.30","sx":1407,"sx2":1483,"sy":710.6,"sy2":762},{"level":"0.33","sx":1407,"sx2":1483,"sy":762,"sy2":813},{"level":"0.36","sx":1407,"sx2":1483,"sy":813,"sy2":864}
],
"legendLabels":[
{"label":"0.00","sx":1495,"sy":191},{"label":"0.03","sx":1495,"sy":245},{"label":"0.06","sx":1495,"sy":297},{"label":"0.09","sx":1495,"sy":348},{"label":"0.12","sx":1495,"sy":399},{"label":"0.15","sx":1495,"sy":451},{"label":"0.18","sx":1495,"sy":504},{"label":"0.21","sx":1495,"sy":555},{"label":"0.24","sx":1495,"sy":606},{"label":"0.27","sx":1495,"sy":658},{"label":"0.30","sx":1495,"sy":708},{"label":"0.33","sx":1495,"sy":760},{"label":"0.36","sx":1495,"sy":813},{"label":"0.39","sx":1495,"sy":863}
]
},
"encoding":{
"x":{"field":"sx","type":"quantitative","scale":{"domain":[0,1568],"nice":false,"zero":false},"axis":null},
"y":{"field":"sy","type":"quantitative","scale":{"domain":[1192.4,0],"nice":false,"zero":false},"axis":null}
},
"layer":[
{"data":{"name":"bands"},"mark":{"type":"area","clip":true},
 "encoding":{"y2":{"datum":1192},"color":{"field":"level","type":"nominal","legend":null,"scale":{"domain":["0.00","0.03","0.06","0.09","0.12","0.15","0.18","0.21","0.24","0.27","0.30","0.33","0.36"],"range":["#A3E82B","#A0EE6E","#9EF8B8","#9CFFFF","#6BADEB","#3663DC","#0014C8","#5015C4","#A815C4","#FF18C8","#FF1280","#FF0A40","#FF0000"]}}}},
{"data":{"name":"topEdge"},"mark":{"type":"area","color":"white"},"encoding":{"y2":{"datum":0}}},
{"data":{"name":"bottomEdge"},"mark":{"type":"area","color":"white"},"encoding":{"y2":{"datum":1192.4}}},
{"data":{"name":"wallSolid"},"mark":{"type":"line","color":"#9a9a9a","strokeWidth":2},"encoding":{"detail":{"field":"line"},"order":{"value":null}}},
{"data":{"name":"wallDash"},"mark":{"type":"line","color":"#b4b4b4","strokeWidth":2,"strokeDash":[9,8]},"encoding":{"detail":{"field":"line"},"order":{"value":null}}},
{"data":{"name":"floorLines"},"mark":{"type":"line","color":"#555555","strokeWidth":1.6},"encoding":{"detail":{"field":"line"},"order":{"value":null}}},
{"data":{"name":"frontEdge"},"mark":{"type":"line","color":"#b0b0b0","strokeWidth":1},"encoding":{}},
{"data":{"name":"bands"},"transform":[{"filter":"!datum.off"}],"mark":{"type":"line","color":"#ffffff","strokeWidth":2.6,"opacity":0.92},"encoding":{"detail":{"field":"level"}}},
{"data":{"name":"gridT"},"mark":{"type":"line","color":"#c2bfbf","strokeWidth":2},"encoding":{"detail":{"field":"line"},"order":{"value":null}}},
{"data":{"name":"gridP"},"mark":{"type":"line","color":"#c2bfbf","strokeWidth":2},"encoding":{"detail":{"field":"line"},"order":{"value":null}}},
{"data":{"name":"topFrame"},"mark":{"type":"line","color":"#b8b8b8","strokeWidth":2},"encoding":{"order":{"value":null}}},
{"data":{"name":"topFrame"},"mark":{"type":"line","color":"#222222","strokeWidth":2,"strokeDash":[4,22]},"encoding":{"order":{"value":null}}},
{"data":{"name":"axes"},"mark":{"type":"line","color":"#222222","strokeWidth":2.4},"encoding":{"detail":{"field":"line"},"order":{"value":null}}},
{"data":{"name":"legendCells"},"mark":{"type":"rect"},"encoding":{"x2":{"field":"sx2"},"y2":{"field":"sy2"},"color":{"field":"level","type":"nominal","legend":null}}},
{"data":{"name":"legendLabels"},"mark":{"type":"text","align":"left","baseline":"middle","fontSize":34},"encoding":{"text":{"field":"label"}}},
{"data":{"values":[{"label":"0.40","sx":123,"sy":105}]},"mark":{"type":"text","fontSize":46,"angle":357},"encoding":{"text":{"field":"label"}}},
{"data":{"values":[{"label":"0.35","sx":130,"sy":208}]},"mark":{"type":"text","fontSize":46,"angle":352},"encoding":{"text":{"field":"label"}}},
{"data":{"values":[{"label":"0.30","sx":136,"sy":312},{"label":"0.25","sx":142,"sy":416}]},"mark":{"type":"text","fontSize":46,"angle":349},"encoding":{"text":{"field":"label"}}},
{"data":{"values":[{"label":"0.20","sx":150,"sy":514},{"label":"0.15","sx":157,"sy":612}]},"mark":{"type":"text","fontSize":46,"angle":346},"encoding":{"text":{"field":"label"}}},
{"data":{"values":[{"label":"0.10","sx":162.5,"sy":706},{"label":"0.05","sx":168,"sy":799},{"label":"0.00","sx":175,"sy":893}]},"mark":{"type":"text","fontSize":46,"angle":343},"encoding":{"text":{"field":"label"}}},
{"data":{"values":[{"label":"950","sx":222,"sy":920},{"label":"1050","sx":306,"sy":962},{"label":"1150","sx":399,"sy":1004},{"label":"1250","sx":500,"sy":1049},{"label":"1350","sx":610,"sy":1097},{"label":"1450","sx":728,"sy":1149}]},"mark":{"type":"text","fontSize":36,"angle":338},"encoding":{"text":{"field":"label"}}},
{"data":{"values":[{"label":"Temperature,  °C","sx":370,"sy":1050}]},"mark":{"type":"text","fontSize":54,"angle":24},"encoding":{"text":{"field":"label"}}},
{"data":{"values":[{"label":"Pressure, bar","sx":1196,"sy":1001}]},"mark":{"type":"text","fontSize":46,"angle":332},"encoding":{"text":{"field":"label"}}},
{"data":{"values":[{"label":"2","sx":965,"sy":1079},{"label":"6","sx":1167,"sy":954},{"label":"8","sx":1249,"sy":900}]},"mark":{"type":"text","fontSize":30,"angle":290},"encoding":{"text":{"field":"label"}}},
{"data":{"values":[{"label":"4","sx":1070,"sy":1014},{"label":"10","sx":1332,"sy":856}]},"mark":{"type":"text","fontSize":30,"angle":340},"encoding":{"text":{"field":"label"}}},
{"data":{"values":[{"label":"The yield of VO, mol/mol V","sx":85,"sy":571}]},"mark":{"type":"text","fontSize":65,"angle":267},"encoding":{"text":{"field":"label"}}},
{"data":{"values":[{"label":"O","sx":57,"sy":205}]},"mark":{"type":"text","fontSize":60,"angle":267},"encoding":{"text":{"field":"label"}}},
{"data":{"values":[{"label":"2","sx":70,"sy":238},{"label":"5","sx":65,"sy":176}]},"mark":{"type":"text","fontSize":38,"angle":267},"encoding":{"text":{"field":"label"}}}
]
}
